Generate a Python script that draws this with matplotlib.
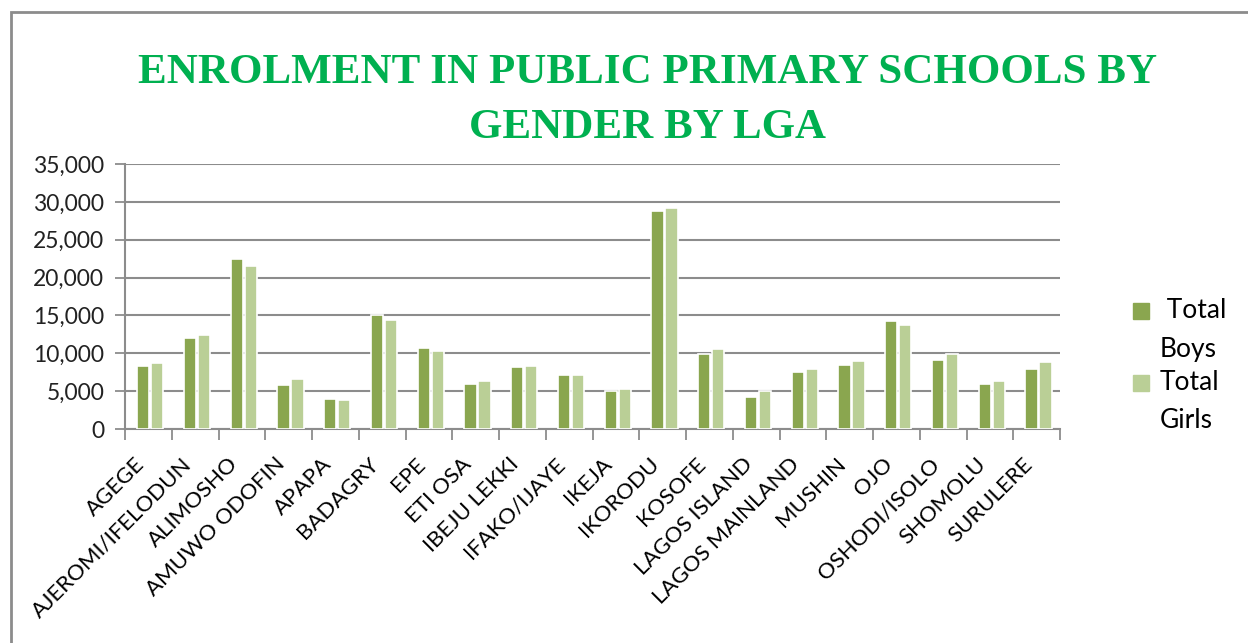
import matplotlib
matplotlib.use('Agg')
import matplotlib.pyplot as plt
import matplotlib.transforms as mtransforms
import numpy as np
from matplotlib.patches import Rectangle
from matplotlib.ticker import FuncFormatter

# data
lgas = ['AGEGE', 'AJEROMI/IFELODUN', 'ALIMOSHO', 'AMUWO ODOFIN', 'APAPA',
        'BADAGRY', 'EPE', 'ETI OSA', 'IBEJU LEKKI', 'IFAKO/IJAYE', 'IKEJA',
        'IKORODU', 'KOSOFE', 'LAGOS ISLAND', 'LAGOS MAINLAND', 'MUSHIN',
        'OJO', 'OSHODI/ISOLO', 'SHOMOLU', 'SURULERE']
boys = [8320, 12060, 22420, 5770, 3920, 15100, 10700, 5990, 8150, 7130,
        4980, 28800, 9870, 4270, 7490, 8500, 14230, 9160, 5990, 7970]
girls = [8680, 12420, 21530, 6650, 3790, 14440, 10340, 6340, 8320, 7130,
         5280, 29150, 10530, 4980, 7970, 9030, 13780, 9870, 6300, 8850]
yticks = [0, 5000, 10000, 15000, 20000, 25000, 30000, 35000]

boys_col = '#8aa64f'
girls_col = '#bacf96'
grid_col = '#8c8c8c'
title_col = '#00b050'
body_font = ['Lato', 'DejaVu Sans']

W, H = 1248, 643
fig = plt.figure(figsize=(W / 100, H / 100), dpi=100)
ax = fig.add_axes([125 / W, 1 - 429 / H, 935 / W, 265 / H])

x = np.arange(len(lgas))
bw = 0.26
ax.bar(x - 0.11, boys, bw, color=boys_col, edgecolor='white', linewidth=1.2, zorder=3)
ax.bar(x + 0.19, girls, bw, color=girls_col, edgecolor='white', linewidth=1.2, zorder=3)

ax.set_xlim(-0.5, len(lgas) - 0.5)
ax.set_ylim(0, 35000)
ax.set_yticks(yticks)
ax.yaxis.set_major_formatter(FuncFormatter(lambda v, p: f'{int(v):,}'))
ax.grid(axis='y', color=grid_col, linewidth=1.5, zorder=0)
ax.set_axisbelow(True)

for s in ['top', 'right']:
    ax.spines[s].set_visible(False)
for s in ['left', 'bottom']:
    ax.spines[s].set_color(grid_col)
    ax.spines[s].set_linewidth(1.5)

# category ticks between groups, labels at group centres
ax.set_xticks(np.arange(len(lgas) + 1) - 0.5)
ax.set_xticklabels([])
ax.set_xticks(x, minor=True)
ax.set_xticklabels(lgas, minor=True, rotation=45, ha='right', va='top',
                   rotation_mode='anchor', fontsize=16, family=body_font)
ax.tick_params(axis='x', which='major', length=8, width=1.3, color=grid_col, direction='out')
ax.tick_params(axis='x', which='minor', length=0, pad=18)
shift = mtransforms.ScaledTranslation(-14 / 100, 0, fig.dpi_scale_trans)
for t in ax.xaxis.get_minorticklabels():
    t.set_transform(t.get_transform() + shift)
ax.tick_params(axis='y', length=7, width=1.3, color=grid_col, labelsize=16.5, pad=8)
for t in ax.get_yticklabels():
    t.set_family(body_font)
    t.set_color('#222222')

fig.text(0.519, 1 - 83 / H, 'ENROLMENT IN PUBLIC PRIMARY SCHOOLS BY',
         ha='center', va='baseline', fontsize=31, fontweight='bold',
         family='Liberation Serif', color=title_col)
fig.text(0.519, 1 - 138 / H, 'GENDER BY LGA',
         ha='center', va='baseline', fontsize=31, fontweight='bold',
         family='Liberation Serif', color=title_col)

# legend
for col, yy, l1, l2 in [(boys_col, 311, ' Total', 'Boys'), (girls_col, 383, 'Total', 'Girls')]:
    fig.patches.append(Rectangle((1133 / W, 1 - (yy + 8) / H), 16 / W, 16 / H,
                                 transform=fig.transFigure, color=col))
    fig.text(1160 / W, 1 - yy / H, l1, ha='left', va='center', fontsize=19, family=body_font)
    fig.text(1160 / W, 1 - (yy + 38) / H, l2, ha='left', va='center', fontsize=19, family=body_font)

# outer chart frame
fig.patches.append(Rectangle((11 / W, -0.05), 1.1, 1 - 12 / H + 0.05, transform=fig.transFigure,
                             fill=False, edgecolor='#8c8c8c', linewidth=2))

fig.savefig('out.png', dpi=100)
